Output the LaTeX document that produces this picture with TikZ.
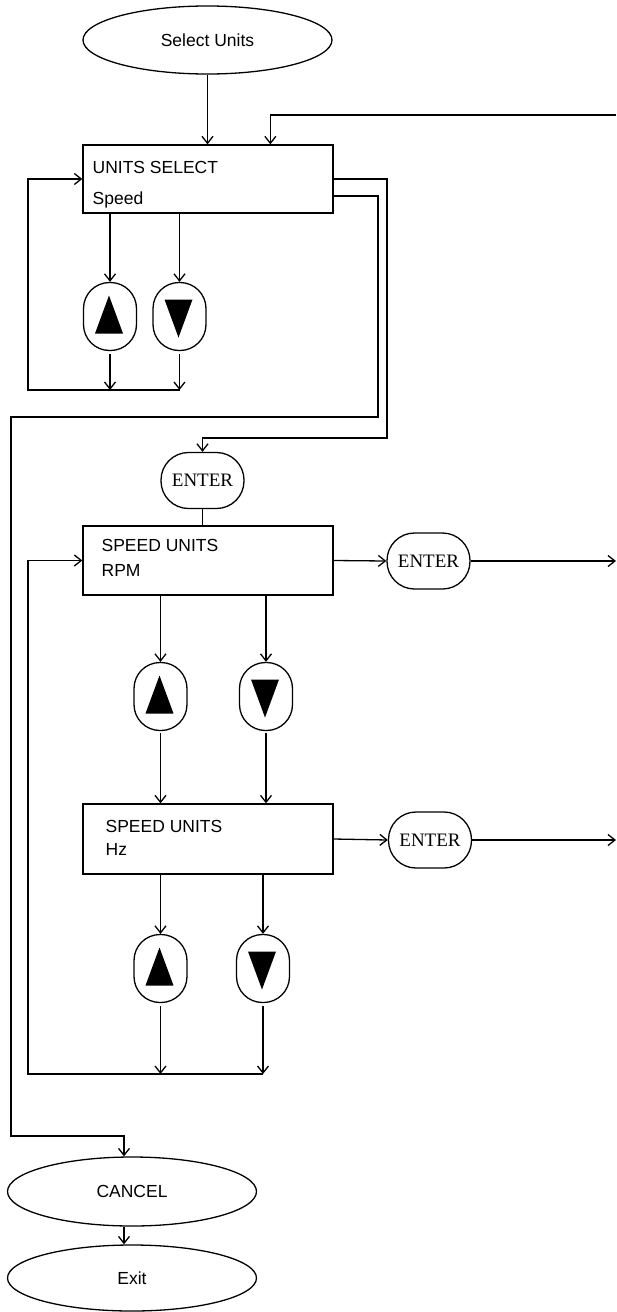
\documentclass[tikz,border=0pt]{standalone}
\usepackage{fontspec}
\setmainfont{Liberation Sans}
\newfontfamily\entfont{Liberation Serif}
\usetikzlibrary{shapes.geometric,arrows.meta,calc}
\newcommand\myUpTri[1]{\fill ([shift={(-15,17)}]#1.center) -- ([shift={(13,17)}]#1.center) -- ([shift={(-1,-21)}]#1.center) -- cycle;}
\newcommand\myDnTri[1]{\fill ([shift={(-15,-17)}]#1.center) -- ([shift={(13,-17)}]#1.center) -- ([shift={(-1,21)}]#1.center) -- cycle;}
\begin{document}
\begin{tikzpicture}[x=1pt,y=-1pt,line width=1.3pt,
  arr/.style={-{Straight Barb[length=7pt,width=11pt]}},
  term/.style={draw,ellipse,minimum width=249pt,minimum height=68pt,inner sep=0pt,font=\fontsize{17.5}{20}\selectfont},
  disp/.style={draw,rectangle,minimum width=250pt,minimum height=69pt,inner sep=0pt},
  lbl/.style={anchor=base west,inner sep=0pt,font=\fontsize{17.5}{20}\selectfont},
  btn/.style={draw,rectangle,rounded corners=26pt,minimum width=53pt,minimum height=68pt,inner sep=0pt},
  enter/.style={draw,rectangle,rounded corners=27.5pt,minimum width=83pt,minimum height=56pt,inner sep=0pt,font=\entfont\fontsize{19}{22}\selectfont},
]
\useasboundingbox (0,0) rectangle (617,1312);
% nodes
\node[term] (sel) at (207.5,40) {Select Units};
\node[disp,minimum height=68pt] (us) at (208,179) {};
\node[lbl] (us1) at (92,173) {UNITS SELECT};
\node[lbl] (us2) at (92,204) {Speed};
\node[btn] (up1) at (110,316.5) {};
\node[btn] (dn1) at (179.5,316.5) {};
\myUpTri{up1}
\myDnTri{dn1}
\node[enter] (ent1) at (202.5,480.5) {ENTER};
\node[disp] (rpm) at (208,560.5) {};
\node[lbl] (rpm1) at (101,551) {SPEED UNITS};
\node[lbl] (rpm2) at (101,576) {RPM};
\node[enter] (ent2) at (428.5,561) {ENTER};
\node[btn] (up2) at (160.5,696.5) {};
\node[btn] (dn2) at (266,696.5) {};
\myUpTri{up2}
\myDnTri{dn2}
\node[disp,minimum height=70pt] (hz) at (208,839) {};
\node[lbl] (hz1) at (105,832) {SPEED UNITS};
\node[lbl] (hz2) at (105,855) {Hz};
\node[enter] (ent3) at (430,840) {ENTER};
\node[btn] (up3) at (160.5,968.5) {};
\node[btn] (dn3) at (263,968.5) {};
\myUpTri{up3}
\myDnTri{dn3}
\node[term,minimum height=69pt] (cancel) at (132,1191.5) {CANCEL};
\node[term,minimum height=66pt] (exit) at (132,1278) {Exit};
% coordinates
\coordinate (inR) at (616,115);
\coordinate (L1) at (28,390);
\coordinate (R1) at (387,438);
\coordinate (C1) at (378,417);
\coordinate (C2) at (11,1136);
\coordinate (o2) at (616,561);
\coordinate (o3) at (616,840);
\coordinate (L2) at (28,1074);
% connectors
\draw[arr] (sel.south) -- (sel.south |- us.north);
\draw[arr] (inR) -| ([xshift=188pt]us.north west);
\draw[arr] (up1.north |- us.south) -- (up1.north);
\draw[arr] (dn1.north |- us.south) -- (dn1.north);
\draw[arr] ([yshift=-3pt]up1.south) -- (up1.south |- L1);
\draw[arr] ([yshift=-3pt]dn1.south) -- (dn1.south |- L1);
\draw[arr] (dn1.south |- L1) -- (L1) |- (us.west);
\draw[arr] (us.east) -| (R1) -| (ent1.north);
\draw[arr] ([yshift=-17pt]us.east) -| (C1) -| (C2) -| ([xshift=-8pt]cancel.north);
\draw (ent1.south) -- (ent1.south |- rpm.north);
\draw[arr] (rpm.east) -- (ent2.west);
\draw[arr] (ent2.east) -- (o2);
\draw[arr] (up2.north |- rpm.south) -- (up2.north);
\draw[arr] (dn2.north |- rpm.south) -- (dn2.north);
\draw[arr] ([yshift=-2pt]up2.south) -- (up2.south |- hz.north);
\draw[arr] ([yshift=-2pt]dn2.south) -- (dn2.south |- hz.north);
\draw[arr] (hz.east) -- (ent3.west);
\draw[arr] (ent3.east) -- (o3);
\draw[arr] (up3.north |- hz.south) -- (up3.north);
\draw[arr] (dn3.north |- hz.south) -- (dn3.north);
\draw[arr] ([yshift=-3pt]up3.south) -- (up3.south |- L2);
\draw[arr] ([yshift=-3pt]dn3.south) -- (dn3.south |- L2);
\draw[arr] (dn3.south |- L2) -- (L2) |- (rpm.west);
\draw[arr] ([xshift=-8pt]cancel.south) -- ([xshift=-8pt]exit.north);
\end{tikzpicture}
\end{document}
